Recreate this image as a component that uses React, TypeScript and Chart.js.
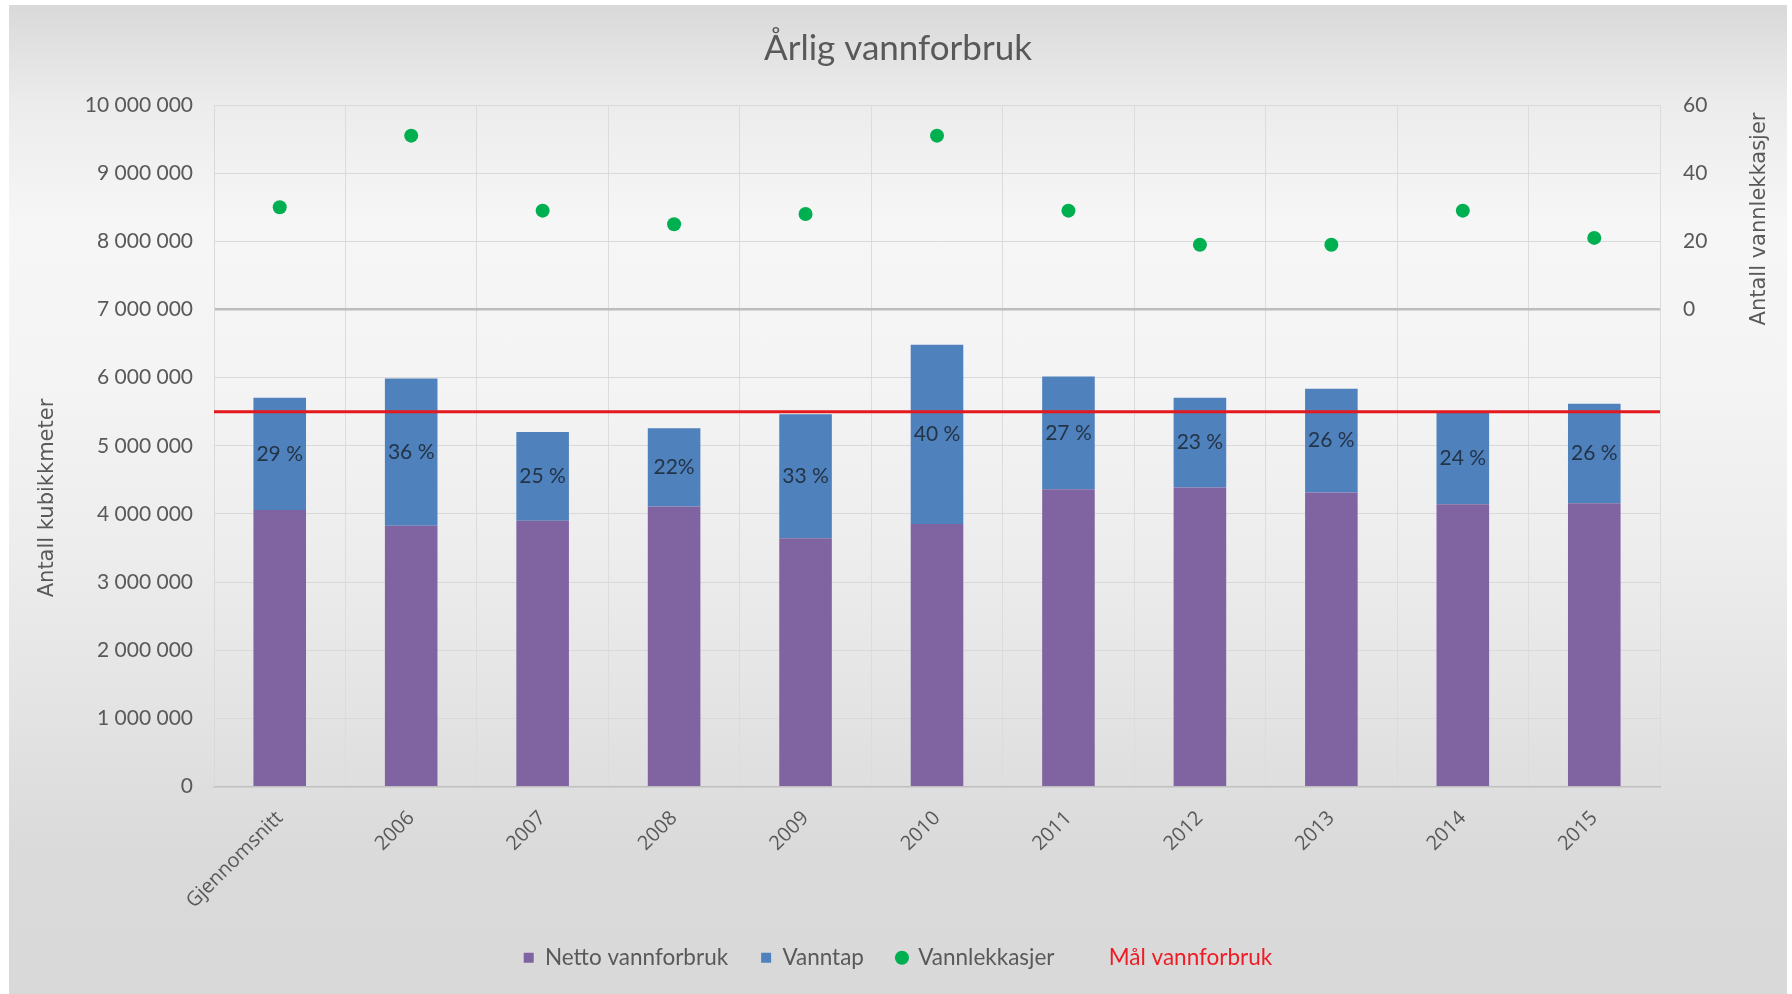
import React, { useEffect, useRef } from 'react';
import { Chart, registerables } from 'chart.js';

Chart.register(...registerables);

// ---- Data ----
const CATEGORIES = ['Gjennomsnitt', '2006', '2007', '2008', '2009', '2010', '2011', '2012', '2013', '2014', '2015'];
const NETTO_VANNFORBRUK = [4056000, 3826000, 3899000, 4110000, 3641000, 3851000, 4363000, 4388000, 4315000, 4143000, 4158000];
const VANNTAP = [1650000, 2162000, 1303000, 1146000, 1820000, 2632000, 1653000, 1318000, 1523000, 1357000, 1460000];
const VANNTAP_LABELS = ['29 %', '36 %', '25 %', '22%', '33 %', '40 %', '27 %', '23 %', '26 %', '24 %', '26 %'];
const VANNLEKKASJER = [30, 51, 29, 25, 28, 51, 29, 19, 19, 29, 21];
const MAAL_VANNFORBRUK = 5500000;

const TITLE = 'Årlig vannforbruk';
const LEFT_TITLE = 'Antall kubikkmeter';
const RIGHT_TITLE = 'Antall vannlekkasjer';
const SERIES_NAMES = ['Netto vannforbruk', 'Vanntap', 'Vannlekkasjer', 'Mål vannforbruk'];

const LEFT_MIN = 0;
const LEFT_MAX = 10000000;
const LEFT_STEP = 1000000;
const LEFT_HIGHLIGHT = 7000000;
const RIGHT_MIN = -140;
const RIGHT_MAX = 60;
const RIGHT_STEP = 20;

const PURPLE = '#8064a2';
const BLUE = '#4f81bd';
const GREEN = '#00b050';
const RED = '#e3191e';
const TEXT = '#595959';

const fmt = (v: number) => String(v).replace(/\B(?=(\d{3})+(?!\d))/g, ' ');

// Target line (Mål vannforbruk) across the whole plot, positioned by the y scale
const targetPlugin = {
  id: 'targetLine',
  afterDatasetsDraw(chart: any) {
    const { ctx, chartArea, scales } = chart;
    const y = scales.y.getPixelForValue(MAAL_VANNFORBRUK);
    ctx.save();
    ctx.strokeStyle = RED;
    ctx.lineWidth = 3;
    ctx.beginPath();
    ctx.moveTo(chartArea.left, y);
    ctx.lineTo(chartArea.right, y);
    ctx.stroke();
    ctx.restore();
  },
};

const pctPlugin = {
  id: 'pctLabels',
  afterDatasetsDraw(chart: any) {
    const ctx = chart.ctx;
    const meta = chart.getDatasetMeta(1);
    ctx.save();
    ctx.font = '21px Lato';
    ctx.fillStyle = '#243447';
    ctx.textAlign = 'center';
    ctx.textBaseline = 'middle';
    meta.data.forEach((bar: any, i: number) => {
      const p = bar.getProps(['x', 'y', 'base'], true);
      ctx.fillText(VANNTAP_LABELS[i], p.x, (p.y + p.base) / 2);
    });
    ctx.restore();
  },
};

const axisTitlePlugin = {
  id: 'axisTitles',
  afterDraw(chart: any) {
    const { ctx, chartArea } = chart;
    ctx.save();
    ctx.fillStyle = TEXT;
    ctx.font = '21px "DejaVu Sans"';
    ctx.textAlign = 'center';
    ctx.textBaseline = 'middle';
    ctx.translate(chartArea.left - 166, chartArea.top + 393);
    ctx.rotate(-Math.PI / 2);
    ctx.fillText(LEFT_TITLE, 0, 0);
    ctx.restore();
    ctx.save();
    ctx.fillStyle = TEXT;
    ctx.font = '21px "DejaVu Sans"';
    ctx.textAlign = 'center';
    ctx.textBaseline = 'middle';
    ctx.translate(chartArea.right + 100, chartArea.top + 114);
    ctx.rotate(-Math.PI / 2);
    ctx.fillText(RIGHT_TITLE, 0, 0);
    ctx.restore();
  },
};

export default function App() {
  const ref = useRef<HTMLCanvasElement>(null);

  useEffect(() => {
    const canvas = ref.current;
    if (!canvas) return;
    const chart = new Chart(canvas, {
      type: 'bar',
      data: {
        labels: CATEGORIES,
        datasets: [
          {
            type: 'bar',
            label: SERIES_NAMES[0],
            data: NETTO_VANNFORBRUK,
            backgroundColor: PURPLE,
            yAxisID: 'y',
            barPercentage: 0.4,
            categoryPercentage: 1,
          } as any,
          {
            type: 'bar',
            label: SERIES_NAMES[1],
            data: VANNTAP,
            backgroundColor: BLUE,
            yAxisID: 'y',
            barPercentage: 0.4,
            categoryPercentage: 1,
          } as any,
          {
            type: 'line',
            label: SERIES_NAMES[2],
            data: VANNLEKKASJER,
            showLine: false,
            pointRadius: 7,
            pointHoverRadius: 7,
            pointBackgroundColor: GREEN,
            pointBorderWidth: 0,
            borderColor: GREEN,
            backgroundColor: GREEN,
            yAxisID: 'y1',
          } as any,
        ],
      },
      options: {
        responsive: false,
        animation: false,
        devicePixelRatio: 1,
        layout: { padding: { top: 0, left: 0, right: 0, bottom: 15 } },
        plugins: {
          tooltip: { enabled: false },
          title: {
            display: true,
            text: TITLE,
            color: TEXT,
            font: { family: 'Lato', size: 35, weight: 'normal' },
            padding: { top: 23, bottom: 35 },
          },
          legend: {
            position: 'bottom',
            labels: {
              usePointStyle: true,
              boxWidth: 10,
              boxHeight: 10,
              padding: 33,
              color: TEXT,
              font: { family: 'Lato', size: 22.5 },
              generateLabels: () => [
                { text: SERIES_NAMES[0], fillStyle: PURPLE, strokeStyle: PURPLE, lineWidth: 0, pointStyle: 'rect', datasetIndex: 0, hidden: false, fontColor: TEXT },
                { text: SERIES_NAMES[1], fillStyle: BLUE, strokeStyle: BLUE, lineWidth: 0, pointStyle: 'rect', datasetIndex: 1, hidden: false, fontColor: TEXT },
                { text: SERIES_NAMES[2], fillStyle: GREEN, strokeStyle: GREEN, lineWidth: 0, pointStyle: 'circle', datasetIndex: 2, hidden: false, fontColor: TEXT },
                { text: SERIES_NAMES[3], fillStyle: 'rgba(0,0,0,0)', strokeStyle: 'rgba(0,0,0,0)', lineWidth: 0, pointStyle: 'rect', hidden: false, fontColor: '#ee1c25' },
              ] as any,
            },
          },
        },
        scales: {
          x: {
            type: 'category',
            stacked: true,
            offset: true,
            grid: { display: true, offset: true, color: '#dcdcdc', drawTicks: false },
            border: { display: true, color: '#bfbfbf', width: 1.5 },
            ticks: {
              color: TEXT,
              font: { family: '"Open Sans"', size: 20 },
              minRotation: 45,
              maxRotation: 45,
              autoSkip: false,
              padding: 20,
            },
            afterFit: (s: any) => { s.height = 127; },
          },
          y: {
            type: 'linear',
            position: 'left',
            stacked: true,
            min: LEFT_MIN,
            max: LEFT_MAX,
            grid: {
              color: (c: any) => (c.tick && c.tick.value === LEFT_HIGHLIGHT ? '#bdbdbd' : '#d9d9d9'),
              lineWidth: (c: any) => (c.tick && c.tick.value === LEFT_HIGHLIGHT ? 2.5 : 1),
              drawTicks: false,
            },
            border: { display: true, color: '#d9d9d9' },
            ticks: {
              stepSize: LEFT_STEP,
              color: TEXT,
              font: { family: 'Lato', size: 21 },
              padding: 21,
              callback: (v: any) => fmt(Number(v)),
            },
            afterFit: (s: any) => { s.width = 205; },
          },
          y1: {
            type: 'linear',
            position: 'right',
            min: RIGHT_MIN,
            max: RIGHT_MAX,
            grid: { display: false, drawTicks: false },
            border: { display: false },
            ticks: {
              stepSize: RIGHT_STEP,
              color: TEXT,
              font: { family: 'Lato', size: 21 },
              padding: 23,
              callback: (v: any) => (Number(v) >= 0 ? String(v) : ''),
            },
            afterFit: (s: any) => { s.width = 127; },
          },
        },
      } as any,
      plugins: [targetPlugin, pctPlugin, axisTitlePlugin],
    });
    return () => chart.destroy();
  }, []);

  return (
    <div
      style={{
        position: 'absolute',
        left: 9,
        top: 5,
        width: 1778,
        height: 989,
        background:
          'linear-gradient(to bottom, #d9d9d9 0%, #ececec 10%, #f6f6f6 22%, #f4f4f4 38%, #ededed 55%, #e3e3e3 72%, #dadada 86%, #d9d9d9 100%)',
      }}
    >
      <canvas ref={ref} width={1778} height={989} style={{ display: 'block', width: 1778, height: 989 }} />
    </div>
  );
}
